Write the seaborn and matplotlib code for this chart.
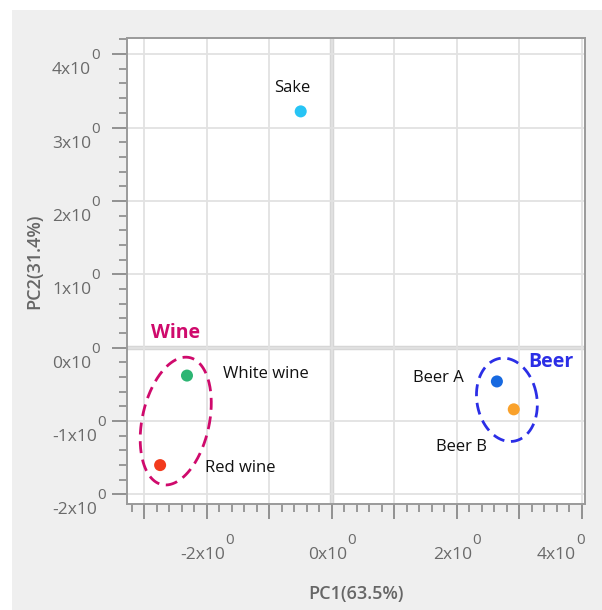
import matplotlib.pyplot as plt
import matplotlib.ticker as mticker
from matplotlib.patches import Rectangle
import numpy as np
import pandas as pd
import seaborn as sns

# PCA scores
samples = ["Sake", "White wine", "Red wine", "Beer A", "Beer B"]
pc1 = [-0.50, -2.32, -2.75, 2.64, 2.91]
pc2 = [3.22, -0.38, -1.60, -0.46, -0.84]
colors = ["#27c4f5", "#2db573", "#f23a1c", "#1769e0", "#f9a12b"]

groups = ["Wine", "Beer"]
group_x = [-2.50, 3.50]
group_y = [0.20, -0.19]
group_colors = ["#cf0a6c", "#2b2ee6"]

x_labeled_ticks = [-2, 0, 2, 4]
y_labeled_ticks = [-2, -1, 0, 1, 2, 3, 4]

xlim = (-3.28, 4.05)
ylim = (-2.13, 4.22)

sns.set_theme(style="white")
plt.rcParams["font.family"] = ["Open Sans", "DejaVu Sans"]

df = pd.DataFrame({"sample": samples, "PC1": pc1, "PC2": pc2})

fig = plt.figure(figsize=(6.02, 6.10), dpi=100, facecolor="white")
fig.add_artist(Rectangle((12 / 602, 0), 1, 1 - 10 / 610, transform=fig.transFigure,
                         facecolor="#efefef", edgecolor="none", zorder=0))
ax_l, ax_b, ax_w, ax_h = 127 / 602, 106 / 610, 458 / 602, 466 / 610
ax = fig.add_axes([ax_l, ax_b, ax_w, ax_h])
ax.set_facecolor("white")

ax.set_xlim(*xlim)
ax.set_ylim(*ylim)

# grid + zero lines
ax.grid(True, which="major", color="#e2e2e2", lw=1.3, zorder=0)
ax.axhline(0, color="#d6d6d6", lw=3.2, zorder=0.5)
ax.axvline(0, color="#d6d6d6", lw=3.2, zorder=0.5)

sns.scatterplot(data=df, x="PC1", y="PC2", hue="sample",
                palette=dict(zip(samples, colors)), s=75, edgecolor="none",
                legend=False, ax=ax, zorder=3)

# point labels (offsets in pixels)
offsets = {"Sake": (-8, 23, "center"), "White wine": (36, 2, "left"),
           "Red wine": (45, -3, "left"), "Beer A": (-33, 3, "right"),
           "Beer B": (-52, -38, "center")}
for name, x, y in zip(samples, pc1, pc2):
    dx, dy, ha = offsets[name]
    ax.annotate(name, (x, y), xytext=(dx, dy), textcoords="offset pixels",
                ha=ha, va="center", fontsize=12, color="#111111")

# dashed group ellipses (pixel geometry mapped to data coords)
sx = ax_w * 602 / (xlim[1] - xlim[0])
sy = ax_h * 610 / (ylim[1] - ylim[0])
ell = [(-2.50, -1.00, 65, 33.5, 12.3, group_colors[0]),
       (2.80, -0.71, 42, 30, -10, group_colors[1])]
t = np.linspace(0, 2 * np.pi, 300)
for cx, cy, a, b, phi, col in ell:
    p = np.deg2rad(phi)
    u, v = b * np.cos(t), a * np.sin(t)
    xp = u * np.cos(p) + v * np.sin(p)
    yp = -u * np.sin(p) + v * np.cos(p)
    ax.plot(cx + xp / sx, cy + yp / sy, color=col, lw=2,
            ls=(0, (4.3, 2.4)), zorder=2)

for g, x, y, c in zip(groups, group_x, group_y, group_colors):
    ax.text(x, y, g, color=c, fontsize=14, fontweight="bold",
            ha="center", va="center")

# ticks: drawn by matplotlib, labels placed by hand ("Nx10" + raised "0")
ax.xaxis.set_major_locator(mticker.MultipleLocator(1))
ax.xaxis.set_minor_locator(mticker.MultipleLocator(0.2))
ax.yaxis.set_major_locator(mticker.MultipleLocator(1))
ax.yaxis.set_minor_locator(mticker.MultipleLocator(0.2))
ax.xaxis.set_major_formatter(mticker.NullFormatter())
ax.yaxis.set_major_formatter(mticker.NullFormatter())
ax.tick_params(which="major", direction="out", length=11, width=1.3,
               color="#8a8a8a", bottom=True, left=True)
ax.tick_params(which="minor", direction="out", length=5.5, width=1.2,
               color="#8a8a8a", bottom=True, left=True)

lab_kw = dict(color="#6a6a6a", fontsize=12.5, textcoords="offset pixels",
              annotation_clip=False)
sup_kw = dict(color="#6a6a6a", fontsize=11, textcoords="offset pixels",
              ha="left", va="bottom", annotation_clip=False)

for v in y_labeled_ticks:
    main = ax.annotate(f"{v}x10", (0, v), xycoords=("axes fraction", "data"),
                       xytext=(-75, -16), ha="left", va="center", **lab_kw)
    ax.annotate("0", (1, 1), xycoords=main, xytext=(0, -1), **sup_kw)

for v in x_labeled_ticks:
    last = v == x_labeled_ticks[-1]
    main = ax.annotate(f"{v}x10", (v, 0), xycoords=("data", "axes fraction"),
                       xytext=(-6 if last else -4, -51),
                       ha="right" if last else "center", va="center", **lab_kw)
    ax.annotate("0", (1, 1), xycoords=main, xytext=(0, -1), **sup_kw)

for s in ax.spines.values():
    s.set_color("#9a9a9a")
    s.set_linewidth(1.4)

ax.set_xlabel("PC1(63.5%)", fontsize=13, fontweight="semibold", color="#666666")
ax.set_ylabel("PC2(31.4%)", fontsize=13, fontweight="semibold", color="#666666")
ax.xaxis.set_label_coords(0.5, -0.174)
ax.yaxis.set_label_coords(-0.183, 0.52)

fig.savefig("out.png", dpi=100, facecolor="white")
